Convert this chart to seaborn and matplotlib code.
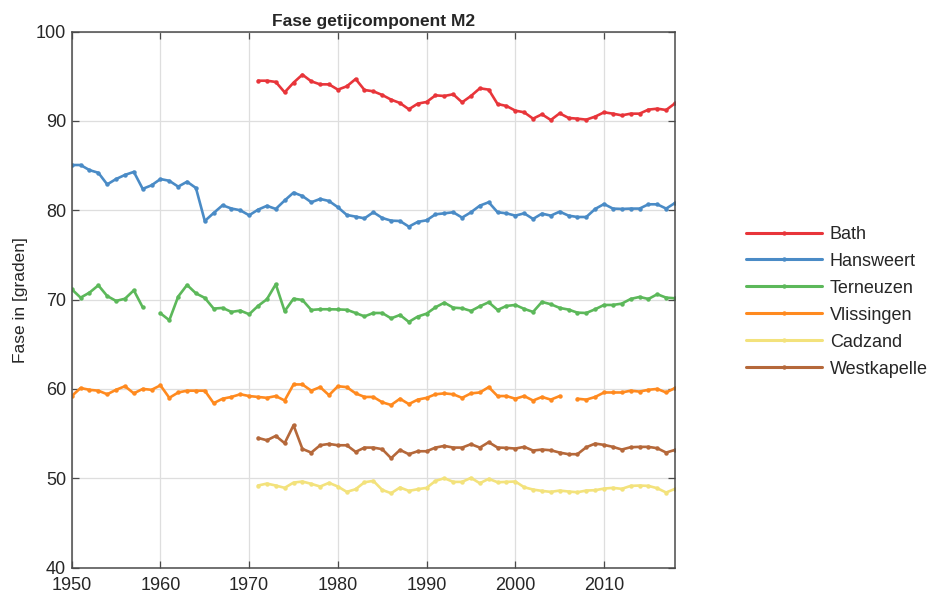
import matplotlib
matplotlib.use("Agg")

import matplotlib.pyplot as plt
import seaborn as sns
import numpy as np
import pandas as pd


# ==================================================
# Data
# ==================================================

years_full = list(range(1950, 2019))
years_late = list(range(1971, 2019))

stations = ["Bath", "Hansweert", "Terneuzen", "Vlissingen", "Cadzand", "Westkapelle"]

colors = ["#e8353a", "#4a8bc6", "#5cb85a", "#ff8a1f", "#f3e27c", "#b5683a"]

bath = [
    94.51, 94.51, 94.37, 93.21, 94.29, 95.19, 94.44, 94.10, 94.10,
    93.51, 93.88, 94.70, 93.47, 93.32, 92.91, 92.39, 92.01, 91.31, 91.94,
    92.13, 92.87, 92.80, 92.99, 92.09, 92.80, 93.66, 93.51, 91.90, 91.68,
    91.16, 90.97, 90.26, 90.75, 90.11, 90.86, 90.34, 90.26, 90.15, 90.49,
    90.97, 90.82, 90.63, 90.82, 90.82, 91.27, 91.38, 91.23, 91.98,
]

hansweert = [
    85.07, 85.07, 84.50, 84.20, 82.90, 83.50, 83.96, 84.30, 82.40, 82.80,
    83.50, 83.30, 82.65, 83.20, 82.50, 78.80, 79.70, 80.56, 80.20, 80.00,
    79.44, 80.07, 80.50, 80.15, 81.10, 81.98, 81.60, 80.90, 81.27, 81.04,
    80.34, 79.48, 79.29, 79.10, 79.78, 79.14, 78.84, 78.80, 78.17, 78.70,
    78.88, 79.55, 79.66, 79.78, 79.18, 79.78, 80.52, 80.90, 79.78, 79.66,
    79.40, 79.66, 79.03, 79.63, 79.40, 79.85, 79.40, 79.25, 79.25, 80.15,
    80.70, 80.19, 80.15, 80.19, 80.19, 80.67, 80.67, 80.19, 80.82,
]

terneuzen = [
    71.16, 70.22, 70.78, 71.60, 70.40, 69.85, 70.10, 71.04, 69.14, None,
    68.47, 67.69, 70.34, 71.64, 70.70, 70.19, 68.99, 69.07, 68.62, 68.77,
    68.36, 69.29, 70.04, 71.72, 68.70, 70.10, 69.96, 68.84, 68.92, 68.92,
    68.90, 68.86, 68.50, 68.12, 68.50, 68.50, 67.90, 68.28, 67.50, 68.10,
    68.43, 69.14, 69.66, 69.10, 69.03, 68.73, 69.25, 69.70, 68.84, 69.29,
    69.40, 68.96, 68.62, 69.74, 69.48, 69.07, 68.88, 68.54, 68.50, 68.92,
    69.40, 69.40, 69.55, 70.07, 70.30, 70.07, 70.60, 70.22, 70.15,
]

vlissingen = [
    59.2, 60.1, 59.9, 59.8, 59.4, 59.9, 60.3, 59.5, 60.0, 59.9,
    60.4, 59.0, 59.6, 59.8, 59.8, 59.8, 58.4, 58.9, 59.1, 59.4,
    59.2, 59.1, 59.0, 59.2, 58.7, 60.5, 60.5, 59.8, 60.2, 59.3,
    60.3, 60.2, 59.5, 59.1, 59.1, 58.5, 58.2, 58.9, 58.3, 58.8,
    59.0, 59.4, 59.5, 59.4, 59.0, 59.5, 59.6, 60.2, 59.2, 59.2,
    58.9, 59.2, 58.7, 59.1, 58.8, 59.2, None, 58.9, 58.8, 59.1,
    59.6, 59.6, 59.6, 59.8, 59.7, 59.9, 60.0, 59.6, 60.1,
]

cadzand = [
    49.18, 49.40, 49.18, 48.92, 49.51, 49.63, 49.37, 49.07, 49.48,
    49.07, 48.47, 48.77, 49.55, 49.70, 48.69, 48.32, 48.96, 48.58, 48.77,
    48.92, 49.70, 50.00, 49.59, 49.59, 50.04, 49.44, 49.93, 49.55, 49.59,
    49.63, 48.99, 48.73, 48.58, 48.47, 48.62, 48.51, 48.43, 48.62, 48.66,
    48.84, 48.92, 48.81, 49.14, 49.18, 49.14, 48.88, 48.40, 48.81,
]

westkapelle = [
    54.51, 54.25, 54.74, 53.92, 55.93, 53.28, 52.87, 53.69, 53.84,
    53.69, 53.69, 52.95, 53.43, 53.43, 53.25, 52.24, 53.17, 52.69, 53.02,
    53.02, 53.43, 53.62, 53.43, 53.43, 53.81, 53.43, 54.03, 53.43, 53.40,
    53.32, 53.51, 53.10, 53.21, 53.13, 52.87, 52.69, 52.69, 53.47, 53.88,
    53.73, 53.51, 53.21, 53.47, 53.51, 53.51, 53.36, 52.87, 53.17,
]


# ==================================================
# Long table, split into segments at the gaps
# ==================================================

series = {
    "Bath": (years_late, bath),
    "Hansweert": (years_full, hansweert),
    "Terneuzen": (years_full, terneuzen),
    "Vlissingen": (years_full, vlissingen),
    "Cadzand": (years_late, cadzand),
    "Westkapelle": (years_late, westkapelle),
}

frames = []

for name, (yrs, vals) in series.items():
    v = np.array([np.nan if x is None else x for x in vals], dtype=float)
    seg = np.cumsum(np.isnan(v))
    frames.append(pd.DataFrame({
        "year": yrs,
        "fase": v,
        "station": name,
        "segment": [f"{name}_{s}" for s in seg],
    }))

df = pd.concat(frames).dropna()


# ==================================================
# Plot
# ==================================================

sns.set_theme(style="ticks")
plt.rcParams["font.family"] = ["Liberation Sans", "DejaVu Sans"]

fig = plt.figure(figsize=(9.45, 6.01), dpi=100)
ax = fig.add_axes([0.0759, 0.0557, 0.6384, 0.8916])

sns.lineplot(
    data=df,
    x="year",
    y="fase",
    hue="station",
    hue_order=stations,
    palette=colors,
    units="segment",
    estimator=None,
    marker="o",
    markersize=3.2,
    markeredgewidth=0,
    linewidth=1.9,
    ax=ax,
)

ax.set_xlim(1950, 2018)
ax.set_ylim(40, 100)
ax.set_xticks(range(1950, 2011, 10))
ax.set_yticks(range(40, 101, 10))

ax.grid(True, color="#dedede", linewidth=0.9)
ax.set_axisbelow(True)

for s in ax.spines.values():
    s.set_visible(True)
    s.set_color("#4a4a4a")
    s.set_linewidth(1.1)

ax.tick_params(
    direction="in",
    top=True,
    right=True,
    length=5,
    width=0.9,
    color="#4a4a4a",
    labelsize=13,
    labelcolor="#262626",
)

ax.tick_params(axis="x", pad=7)
ax.tick_params(axis="y", pad=4)

ax.set_xlabel("")
ax.set_ylabel("Fase in [graden]", fontsize=12.5, color="#262626", labelpad=6)
ax.set_title("Fase getijcomponent M2", fontsize=12.5, fontweight="bold", pad=4)

leg = ax.legend(
    loc="center left",
    bbox_to_anchor=(0.772, 0.498),
    bbox_transform=fig.transFigure,
    frameon=False,
    fontsize=13,
    handlelength=4.2,
    handletextpad=0.45,
    labelspacing=0.55,
)

for line in leg.get_lines():
    line.set_linewidth(2.2)

fig.savefig("out.png", dpi=100)
